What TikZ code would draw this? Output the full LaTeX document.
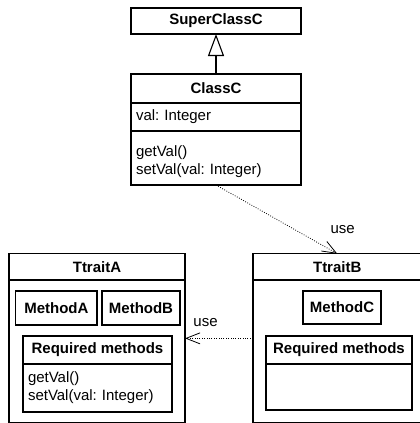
\documentclass[tikz,border=0pt]{standalone}
\usepackage{fontspec}
\setmainfont{Liberation Sans}
\usetikzlibrary{positioning,arrows.meta}
\frenchspacing

\begin{document}
\begin{tikzpicture}[x=1pt,y=-1pt,
  font=\fontsize{15}{18}\selectfont,
  line width=1.1pt,
  boxstyle/.style={
    rectangle,
    draw=black,
    inner sep=0pt,
    outer sep=0pt,
  },
  titlebox/.style={
    boxstyle,
    font=\fontsize{15}{18}\selectfont\bfseries,
  },
  listbox/.style={
    boxstyle,
    inner xsep=5pt,
    align=left,
  },
  uselabel/.style={
    inner sep=0pt,
    anchor=base west,
  },
  usearrow/.style={
    line width=0.8pt,
    dash pattern=on 0.8pt off 1.6pt,
    -{Straight Barb[length=14pt,width=11pt]},
  },
  inheritarrow/.style={
    -{Triangle[open,length=22pt,width=16pt]},
  }]
\useasboundingbox (0,0) rectangle (420,423);
% class hierarchy
\node[titlebox, minimum width=170pt, minimum height=26pt] (superClassC) at (216,21) {SuperClassC};
\node[titlebox, minimum width=170pt, minimum height=29pt] (classC) at (216,88.5) {ClassC};
\node[listbox, text width=160pt, minimum height=28pt] (classCAttr) [below=0pt of classC] {val: Integer};
\node[listbox, text width=160pt, minimum height=54pt] (classCOps) [below=0pt of classCAttr] {\rule{0pt}{19pt}getVal()\\setVal(val: Integer)};
% trait A
\node[boxstyle, minimum width=176pt, minimum height=169.3pt] (traitA) at (97,338.35) {};
\node[titlebox, minimum width=176pt, minimum height=26.3pt, anchor=north] (traitATitle) at (traitA.north) {TtraitA};
\node[titlebox, minimum width=81.3pt, minimum height=34pt] (methodA) at (56.35,308) {MethodA};
\node[titlebox, minimum width=78pt, minimum height=34pt] (methodB) [right=5pt of methodA] {MethodB};
\node[titlebox, minimum width=149pt, minimum height=28pt] (reqA) at (97.5,350) {Required methods};
\node[listbox, text width=139pt, minimum height=48pt] (reqAOps) [below=0pt of reqA] {getVal()\\setVal(val: Integer)};
% trait B
\node[boxstyle, minimum width=168.5pt, minimum height=169.3pt] (traitB) at (337.25,338.35) {};
\node[titlebox, minimum width=168.5pt, minimum height=26.3pt, anchor=north] (traitBTitle) at (traitB.north) {TtraitB};
\node[titlebox, minimum width=78pt, minimum height=33pt] (methodC) at (342,307.5) {MethodC};
\node[titlebox, minimum width=146pt, minimum height=28pt] (reqB) at (339,350) {Required methods};
\node[boxstyle, minimum width=146pt, minimum height=46pt] (reqBOps) [below=0pt of reqB] {};
% connectors
\draw[inheritarrow] (classC) -- (superClassC);
\draw[usearrow] (classCOps.south) -- (traitB.north)
  node[uselabel, pos=1, xshift=-7pt, yshift=20.7pt] {use};
\draw[usearrow] (traitB.west) -- (traitA.east)
  node[uselabel, pos=0.882, yshift=12.3pt] {use};
\end{tikzpicture}
\end{document}
